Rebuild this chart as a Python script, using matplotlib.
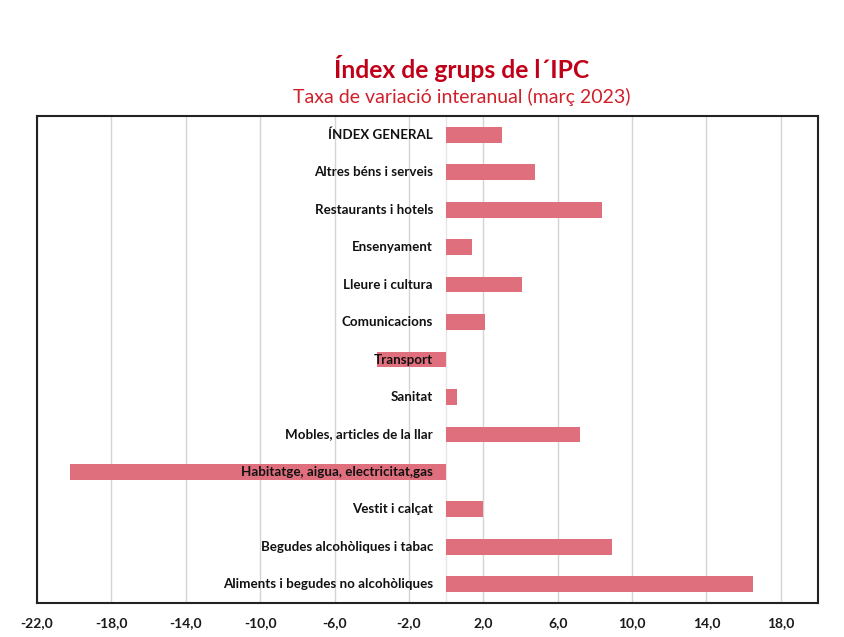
import matplotlib
matplotlib.use("Agg")
import matplotlib.pyplot as plt
import numpy as np

categories = [
    "ÍNDEX GENERAL",
    "Altres béns i serveis",
    "Restaurants i hotels",
    "Ensenyament",
    "Lleure i cultura",
    "Comunicacions",
    "Transport",
    "Sanitat",
    "Mobles, articles de la llar",
    "Habitatge, aigua, electricitat,gas",
    "Vestit i calçat",
    "Begudes alcohòliques i tabac",
    "Aliments i begudes no alcohòliques",
]
values = [3.0, 4.8, 8.4, 1.4, 4.1, 2.1, -3.7, 0.6, 7.2, -20.2, 2.0, 8.9, 16.5]
xticks = [-22, -18, -14, -10, -6, -2, 2, 6, 10, 14, 18]

plt.rcParams['font.family'] = ['Lato', 'DejaVu Sans']

fig = plt.figure(figsize=(8.44, 6.37), dpi=100)
ax = fig.add_axes([37/844, 1-603/637, (818-37)/844, (603-116)/637])

y = np.arange(len(categories))
ax.barh(y, values, height=0.42, color='#e06f7e', zorder=2)
ax.set_ylim(len(categories)-0.5, -0.5)
ax.set_xlim(-22, 20)
ax.set_yticks([])
ax.set_xticks(xticks)
ax.set_xticklabels([f"{v:.1f}".replace('.', ',') for v in xticks], fontsize=10, fontweight='bold', color='#1a1a1a')
ax.tick_params(axis='x', which='both', length=0, width=0, pad=10)
for v in xticks:
    ax.axvline(v, color='#d4d4d4', lw=1.0, zorder=1)
ax.axvline(0, color='#e6e6e6', lw=1.0, zorder=1)
for s in ax.spines.values():
    s.set_color('#222222')
    s.set_linewidth(1.5)

for yi, cat in zip(y, categories):
    ax.annotate(cat, xy=(0, yi), xytext=(-9.5, 0), textcoords='offset points',
                ha='right', va='center', fontsize=9.6, fontweight='bold', color='#111111', zorder=3)

fig.text(462/844, 1-68/637, "Índex de grups de l´IPC", ha='center', va='center',
         fontsize=17.7, fontweight='bold', color='#c00018')
fig.text(462/844, 1-97/637, "Taxa de variació interanual (març 2023)", ha='center', va='center',
         fontsize=14, color='#d0202a')

fig.savefig("out.png", dpi=100, facecolor='white')
